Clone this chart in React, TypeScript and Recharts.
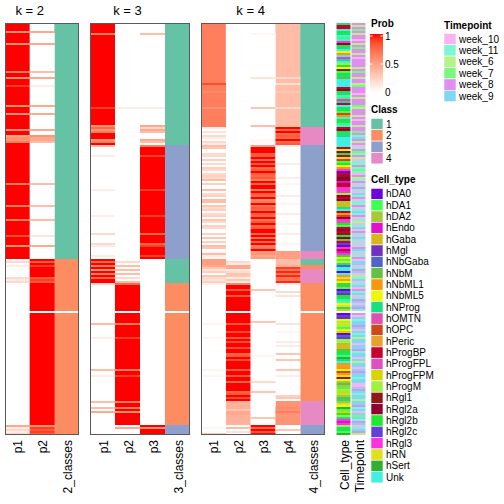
import React from 'react';
import { BarChart, Bar, XAxis, YAxis, Cell } from 'recharts';

type Run = [number, number];

const N_ROWS = 206;

// ---- k = 2 ----
const K2_P1: Run[] = [
  [4, 1], [1, 0.55], [5, 1], [1, 0.55], [13, 1], [1, 0.65], [2, 1], [1, 0.55], [3, 1], [1, 0.9], [9, 1], [1, 0.55],
  [3, 1], [1, 0.55], [7, 1], [1, 0.55], [2, 1], [1, 0.45], [1, 0.55], [1, 0.55], [1, 0.65], [20, 1], [1, 0.65], [10, 1],
  [1, 0.65], [6, 1], [1, 0.65], [7, 1], [1, 0.85], [4, 1], [1, 0.55], [6, 1],
  [1, 0], [1, 0.2], [1, 0], [1, 0.1], [5, 0], [1, 0.2], [1, 0.1], [1, 0.2], [71, 0], [1, 0.45], [1, 0.1], [1, 0.2], [1, 0.1], [1, 0.2],
];
const K2_P2: Run[] = [
  [4, 0], [1, 0.45], [5, 0], [1, 0.45], [13, 0], [1, 0.35], [2, 0], [1, 0.45], [3, 0], [1, 0.1], [9, 0], [1, 0.45],
  [3, 0], [1, 0.45], [7, 0], [1, 0.45], [2, 0], [1, 0.55], [1, 0.45], [1, 0.45], [1, 0.35], [20, 0], [1, 0.35], [10, 0],
  [1, 0.35], [6, 0], [1, 0.35], [7, 0], [1, 0.15], [4, 0], [1, 0.45], [6, 0],
  [1, 1], [1, 0.8], [1, 1], [1, 0.9], [5, 1], [1, 0.8], [1, 0.9], [1, 0.8], [14, 1], [1, 0], [56, 1],
  [1, 0.55], [1, 0.9], [1, 0.8], [1, 0.9], [1, 0.8],
];
const K2_CLASS: Run[] = [[118, 1], [26, 2], [1, 0], [61, 2]];

// ---- k = 3 ----
const K3_P1: Run[] = [
  [5, 1], [1, 0.65], [36, 1], [1, 0.9], [8, 1], [1, 0.55], [1, 0.75], [1, 0.55], [1, 0.65], [3, 1], [1, 0.55], [1, 0.65], [1, 1],
  [1, 0.35], [4, 0], [1, 0.1], [16, 0], [1, 0.1], [12, 0], [1, 0.1], [8, 0], [1, 0.2], [4, 0], [1, 0.2], [1, 0.1], [4, 0], [1, 0.1], [1, 0],
  [1, 1], [1, 0.75], [1, 1], [1, 0.65], [1, 1], [1, 0.55], [1, 1], [1, 0.65], [1, 1], [1, 0.75], [2, 1],
  [1, 0.2], [19, 0], [1, 0.35], [6, 0], [1, 0.1], [15, 0], [1, 0.35], [2, 0], [1, 0.1], [12, 0], [1, 0.35], [2, 0], [1, 0.35], [1, 0], [1, 0.45], [11, 0],
];
const K3_P2: Run[] = [
  [42, 0], [1, 0.1], [75, 0],
  [1, 0], [1, 0.2], [1, 0], [1, 0.35], [1, 0], [1, 0.35], [1, 0], [1, 0.35], [1, 0], [1, 0.2], [1, 0], [1, 0.35],
  [1, 0.75], [13, 1], [1, 0], [5, 1], [1, 0.65], [6, 1], [1, 0.9], [15, 1], [1, 0.65], [2, 1], [1, 0.9], [12, 1], [1, 0.65], [2, 1],
  [1, 0.65], [1, 1], [1, 0.55], [6, 1], [1, 0], [1, 0.45], [3, 0],
];
const K3_P3: Run[] = [
  [5, 0], [1, 0.35], [36, 0], [1, 0.1], [8, 0], [1, 0.45], [1, 0.2], [1, 0.45], [1, 0.35], [3, 0], [1, 0.45], [1, 0.35], [1, 0],
  [1, 0.65], [4, 1], [1, 0.9], [16, 1], [1, 0.9], [12, 1], [1, 0.9], [8, 1], [1, 0.75], [4, 1], [1, 0.75], [1, 0.9], [4, 1], [1, 0.9], [1, 1],
  [83, 0], [1, 1], [1, 0.55], [3, 1],
];
const K3_CLASS: Run[] = [[61, 1], [57, 3], [12, 1], [14, 2], [1, 0], [56, 2], [5, 3]];

// ---- k = 4 ----
const K4_P1: Run[] = [
  [30, 0.65], [1, 0.85], [3, 0.65], [1, 0.6], [7, 0.65], [1, 0.55], [9, 0.65],
  [1, 0.1], [1, 0], [1, 0.15], [1, 0], [1, 0.2], [1, 0.1], [1, 0], [1, 0.2], [1, 0.1],
  [1, 0.35], [1, 0.3], [2, 0], [1, 0.2], [1, 0.2], [1, 0], [1, 0.25], [1, 0], [1, 0.2], [1, 0], [1, 0.25], [1, 0.2], [1, 0],
  [1, 0.2], [1, 0.25], [1, 0.2], [1, 0.35], [1, 0], [1, 0.25], [2, 0], [1, 0.35], [1, 0], [1, 0.2], [1, 0.25], [1, 0],
  [1, 0.35], [1, 0.35], [1, 0], [1, 0.3], [1, 0.2], [1, 0.25], [1, 0], [1, 0.2], [1, 0.25], [1, 0], [1, 0.3], [1, 0.2], [1, 0],
  [1, 0.25], [1, 0.2], [2, 0], [1, 0.25], [1, 0], [1, 0.3], [1, 0], [1, 0.25], [1, 0], [1, 0.35], [1, 0.3], [1, 0],
  [1, 0.05], [1, 0.35], [1, 0.1], [1, 0.05], [3, 0.5],
  [1, 0.45], [1, 0.3], [1, 0.15], [1, 0.25], [1, 0], [1, 0.3], [1, 0.2], [1, 0.15], [1, 0.25], [1, 0.1],
  [19, 0], [1, 0.05], [6, 0], [1, 0.05], [15, 0], [1, 0.05], [2, 0], [1, 0.05], [25, 0], [1, 0.05], [2, 0], [1, 0.3],
];
const K4_P2: Run[] = [
  [119, 0], [1, 0.2], [1, 0.1], [1, 0.45], [1, 0.45], [1, 0.1], [1, 0.2], [1, 0.3], [1, 0.3], [1, 0.1], [1, 0.3], [1, 0.1], [1, 0.6],
  [2, 1], [1, 0.8], [2, 1], [1, 0.8], [7, 1], [1, 0], [5, 1], [1, 0.8], [3, 1], [1, 0.85], [2, 1], [1, 0.8], [1, 1], [1, 0.85],
  [2, 1], [1, 0.85], [2, 1], [1, 0.75], [1, 0.8], [1, 1], [1, 0.85], [4, 1], [1, 0.8], [2, 1], [1, 0.8], [2, 1], [1, 0.75],
  [4, 1], [1, 0.75], [1, 0.8], [1, 1], [1, 0.85], [1, 1],
  [4, 0.4], [1, 0.3], [1, 0.45], [1, 0.45], [5, 0.4],
  [1, 0], [1, 0.35], [1, 0], [1, 0.15], [1, 0],
];
const K4_P3: Run[] = [
  [5, 0], [1, 0.05], [21, 0], [1, 0.15], [14, 0], [1, 0.3], [8, 0], [1, 0.35], [6, 0], [1, 0.05], [1, 0.05], [1, 0],
  [1, 0.5], [3, 1], [1, 0.8], [1, 0.8], [1, 1], [1, 0.75], [1, 1], [1, 0.8], [1, 1], [1, 0.75], [1, 0.8], [1, 1], [1, 0.8],
  [1, 0.75], [1, 0.8], [1, 0.65], [1, 1], [1, 0.75], [2, 1], [1, 0.65], [1, 1], [1, 0.8], [1, 0.75], [1, 1], [1, 0.6],
  [1, 0.65], [1, 1], [1, 0.7], [1, 0.8], [1, 0.75], [1, 1], [1, 0.8], [1, 0.75], [1, 1], [1, 0.7], [1, 0.8], [1, 1],
  [1, 0.75], [1, 0.8], [2, 1], [1, 0.75], [1, 1], [1, 0.7], [1, 1], [1, 0.75], [1, 1], [1, 0.65], [1, 0.7], [1, 1],
  [1, 0.5], [1, 0.55], [1, 0.45], [1, 0.5],
  [15, 0], [1, 0.3], [15, 0], [1, 0.3], [16, 0], [1, 0.05], [12, 0], [1, 0.2], [4, 0], [1, 0.3], [12, 0], [1, 0.3], [3, 0],
  [1, 1], [1, 0.75], [1, 1], [1, 0.8], [1, 1],
];
const K4_P4: Run[] = [
  [27, 0.35], [1, 0.2], [2, 0.35], [1, 0.15], [3, 0.35], [1, 0.3], [7, 0.35], [1, 0.2], [9, 0.35],
  [1, 1], [1, 0.75], [1, 1], [1, 0.75], [1, 0.8], [1, 0.75], [1, 1], [1, 0.75], [1, 0.8],
  [1, 0.1], [8, 0], [1, 0.1], [6, 0], [1, 0.1], [2, 0], [1, 0.05], [5, 0], [1, 0.1], [3, 0], [1, 0.05], [4, 0], [1, 0.1],
  [4, 0], [1, 0.05], [4, 0], [1, 0.1], [4, 0], [1, 0.05], [3, 0],
  [4, 0.5], [3, 0.35], [1, 0.4], [1, 0.9], [1, 0.7], [1, 0.95], [1, 0.7], [1, 0.95], [1, 0.7], [1, 0.7], [1, 0.95],
  [1, 0.1], [3, 0], [1, 0.2], [1, 0], [1, 0.15], [13, 0], [1, 0.15], [3, 0], [1, 0.05], [4, 0], [1, 0.1], [1, 0], [1, 0.1],
  [3, 0], [1, 0.3], [2, 0], [1, 0.3], [4, 0], [1, 0.3], [2, 0], [1, 0.1], [9, 0], [1, 0.25], [1, 0.3], [1, 0],
  [3, 0.55], [1, 0.6], [1, 0.55], [1, 0.65], [6, 0.55],
  [2, 0], [1, 0.3], [2, 0],
];
const K4_CLASS: Run[] = [[52, 1], [9, 4], [53, 3], [4, 4], [3, 1], [2, 2], [7, 4], [14, 2], [1, 0], [44, 2], [12, 4], [5, 3]];

// ---- annotations (one character per sample, '-' = missing) ----
const CELL_TYPES = ['hDA0', 'hDA1', 'hDA2', 'hEndo', 'hGaba', 'hMgl', 'hNbGaba', 'hNbM', 'hNbML1', 'hNbML5', 'hNProg', 'hOMTN', 'hOPC',
  'hPeric', 'hProgBP', 'hProgFPL', 'hProgFPM', 'hProgM', 'hRgl1', 'hRgl2a', 'hRgl2b', 'hRgl2c', 'hRgl3', 'hRN', 'hSert', 'Unk'];
const CELL_TYPE_COLORS = ['#6E00DC', '#40FF50', '#A8C83C', '#E010D0', '#D8B818', '#7030C0', '#5064C8', '#64C040', '#F89810', '#EEF800',
  '#18E080', '#E050B0', '#D04818', '#E8A030', '#C80030', '#E050C0', '#D8D400', '#A0F040', '#901818', '#900030', '#20E830', '#6040D8',
  '#FF30E0', '#E0E020', '#30B030', '#40F0E0'];
const CELL_TYPE_CODES =
  'koozukzbzw' + 'tukzjizwkz' + 'rujsbukhzz' + 'zzotukzbwk' + 'ozkubmizuk' + 'bzotukkzzz' + 'zzojtuoxmb' + 'ujiwaosttd' +
  'oowwprtotc' + 'eekzoimtwl' + 'ubotosutho' + 'vawodwujbx' + 'kgzzazixnj' + 'uhbagfukbz' + 'jxkq-avfjr' + 'xrbjqagvrr' +
  'ceehukbykz' + 'inijmixsjc' + 'hcbrqrchkc' + 'xjybqurkwd' + 'wrkuby';

const TIMEPOINTS = ['week_10', 'week_11', 'week_6', 'week_7', 'week_8', 'week_9'];
const TIMEPOINT_COLORS = ['#F9B4EF', '#7DF7D3', '#B5F28A', '#7BF77B', '#DE8FF0', '#7FD6F5'];
const TIMEPOINT_CODES =
  'ECEDECEEAE' + 'CEDEECEAEE' + 'EECEDEECEE' + 'CDEEEAECEE' + 'EDCEEECEAE' + 'ECEEDEBFEC' + 'EABEDBECAB' + 'BEBDBAECBE' +
  'ABEBAFBEAB' + 'BEABFBEABC' + 'ABFAEBAFBA' + 'BAEFBABEAF' + 'FABEFACBFA' + 'BFAEBFABEF' + 'AFEB-EAFBF' + 'FEFAFBFCFF' +
  'AFFEBFFAFC' + 'FFAFEFFBFF' + 'AAFEFBFFCF' + 'FEBFAFDFBE' + 'FABFEC';

const CLASS_LABELS = ['1', '2', '3', '4'];
const CLASS_COLORS = ['#66C2A5', '#FC8D62', '#8DA0CB', '#E78AC3'];
const PROB_TICKS = [1, 0.5, 0];

// ---- colour helpers (LAB interpolation white -> red) ----
const toLin = (c: number) => { const v = c / 255; return v <= 0.04045 ? v / 12.92 : Math.pow((v + 0.055) / 1.055, 2.4); };
const fromLin = (c: number) => {
  const v = c <= 0.0031308 ? 12.92 * c : 1.055 * Math.pow(Math.max(c, 0), 1 / 2.4) - 0.055;
  return Math.round(Math.max(0, Math.min(1, v)) * 255);
};
const rgbToLab = (r: number, g: number, b: number) => {
  const R = toLin(r), G = toLin(g), B = toLin(b);
  const X = (0.4124 * R + 0.3576 * G + 0.1805 * B) / 0.95047;
  const Y = 0.2126 * R + 0.7152 * G + 0.0722 * B;
  const Z = (0.0193 * R + 0.1192 * G + 0.9505 * B) / 1.08883;
  const f = (t: number) => (t > 0.008856 ? Math.cbrt(t) : 7.787 * t + 16 / 116);
  return [116 * f(Y) - 16, 500 * (f(X) - f(Y)), 200 * (f(Y) - f(Z))];
};
const labToHex = (L: number, a: number, b: number) => {
  const fy = (L + 16) / 116, fx = fy + a / 500, fz = fy - b / 200;
  const inv = (t: number) => (t * t * t > 0.008856 ? t * t * t : (t - 16 / 116) / 7.787);
  const X = 0.95047 * inv(fx), Y = inv(fy), Z = 1.08883 * inv(fz);
  const R = 3.2406 * X - 1.5372 * Y - 0.4986 * Z;
  const G = -0.9689 * X + 1.8758 * Y + 0.0415 * Z;
  const B = 0.0557 * X - 0.204 * Y + 1.057 * Z;
  return '#' + [R, G, B].map((c) => fromLin(c).toString(16).padStart(2, '0')).join('');
};
const WHITE_LAB = rgbToLab(255, 255, 255);
const RED_LAB = rgbToLab(255, 0, 0);
const probColor = (p: number) => {
  const t = Math.max(0, Math.min(1, p));
  return labToHex(
    WHITE_LAB[0] + t * (RED_LAB[0] - WHITE_LAB[0]),
    WHITE_LAB[1] + t * (RED_LAB[1] - WHITE_LAB[1]),
    WHITE_LAB[2] + t * (RED_LAB[2] - WHITE_LAB[2]),
  );
};
const classColor = (c: number) => (c >= 1 ? CLASS_COLORS[c - 1] : '#FFFFFF');

const codesToRuns = (codes: string, alphabet: string): Run[] => {
  const runs: Run[] = [];
  for (const ch of codes) {
    const idx = alphabet.indexOf(ch);
    const last = runs[runs.length - 1];
    if (last && last[1] === idx) last[0] += 1;
    else runs.push([1, idx]);
  }
  return runs;
};
const CT_RUNS = codesToRuns(CELL_TYPE_CODES, 'abcdefghijklmnopqrstuvwxyz');
const TP_RUNS = codesToRuns(TIMEPOINT_CODES, 'ABCDEF');

// ---- layout ----
const FONT = '"Liberation Sans", Arial, Helvetica, sans-serif';
const TOP = 23;
const HM_H = 412;
const LABEL_H = 70;

type Column = { name: string; runs: Run[]; color: (v: number) => string };

const RotTick = (props: any) => {
  const { x, y, payload } = props;
  const bx = x + 5;
  return (
    <text x={bx} y={y} transform={`rotate(-90 ${bx} ${y})`} textAnchor="end" fontSize={12} fontFamily={FONT} fill="#000">
      {payload.value}
    </text>
  );
};

function HeatPanel({ columns, left, width, gap, border }: { columns: Column[]; left: number; width: number; gap: number; border: boolean }) {
  const M = Math.max(...columns.map((c) => c.runs.length));
  const data = columns.map((c) => {
    const row: Record<string, any> = { name: c.name };
    for (let i = 0; i < M; i++) row['s' + i] = c.runs[i] ? c.runs[i][0] : 0;
    return row;
  });
  return (
    <>
      <div style={{ position: 'absolute', left, top: TOP, width, height: HM_H + LABEL_H }}>
        <BarChart width={width} height={HM_H + LABEL_H} data={data} margin={{ top: 0, right: 0, bottom: 0, left: 0 }} barCategoryGap={gap}>
          <YAxis hide type="number" domain={[0, N_ROWS]} reversed allowDataOverflow />
          <XAxis dataKey="name" type="category" interval={0} tickLine={false} axisLine={false} tickSize={0} tickMargin={5}
            height={LABEL_H} tick={(p: any) => <RotTick {...p} />} />
          {Array.from({ length: M }, (_, i) => (
            <Bar key={i} dataKey={'s' + i} stackId="a" isAnimationActive={false}>
              {columns.map((c, j) => (
                <Cell key={j} fill={c.runs[i] ? c.color(c.runs[i][1]) : 'none'} />
              ))}
            </Bar>
          ))}
        </BarChart>
      </div>
      {border && (
        <div style={{ position: 'absolute', left, top: TOP, width, height: HM_H, border: '1px solid #5a5a5a', boxSizing: 'border-box', pointerEvents: 'none' }} />
      )}
    </>
  );
}

const PANELS = [
  { title: 'k = 2', left: 5, width: 74, cols: [['p1', K2_P1], ['p2', K2_P2]] as [string, Run[]][], cls: ['2_classes', K2_CLASS] as [string, Run[]] },
  { title: 'k = 3', left: 90, width: 100, cols: [['p1', K3_P1], ['p2', K3_P2], ['p3', K3_P3]] as [string, Run[]][], cls: ['3_classes', K3_CLASS] as [string, Run[]] },
  { title: 'k = 4', left: 201, width: 124, cols: [['p1', K4_P1], ['p2', K4_P2], ['p3', K4_P3], ['p4', K4_P4]] as [string, Run[]][], cls: ['4_classes', K4_CLASS] as [string, Run[]] },
];

const SW = 11.4;
const GRAD_TOP = 36;
const GRAD_H = 56;

export default function App() {
  const gradStops = Array.from({ length: 11 }, (_, i) => i / 10);
  return (
    <div style={{ position: 'fixed', left: 0, top: 0, width: 504, height: 504, background: '#fff', fontFamily: FONT }}>
      {PANELS.map((p) => {
        const columns: Column[] = [
          ...p.cols.map(([n, r]) => ({ name: n, runs: r, color: probColor })),
          { name: p.cls[0], runs: p.cls[1], color: classColor },
        ];
        return <HeatPanel key={p.title} columns={columns} left={p.left} width={p.width} gap={0} border />;
      })}
      <HeatPanel
        columns={[
          { name: 'Cell_type', runs: CT_RUNS, color: (v) => (v >= 0 ? CELL_TYPE_COLORS[v] : '#FFFFFF') },
          { name: 'Timepoint', runs: TP_RUNS, color: (v) => (v >= 0 ? TIMEPOINT_COLORS[v] : '#FFFFFF') },
        ]}
        left={336}
        width={30}
        gap={0.5}
        border={false}
      />
      <svg width={504} height={504} style={{ position: 'absolute', left: 0, top: 0, pointerEvents: 'none' }} fontFamily={FONT}>
        <defs>
          <linearGradient id="probGrad" x1="0" y1="0" x2="0" y2="1">
            {gradStops.map((t) => (
              <stop key={t} offset={t} stopColor={probColor(1 - t)} />
            ))}
          </linearGradient>
        </defs>
        {PANELS.map((p) => {
          const nc = p.cols.length + 1;
          const cx = p.left + (p.width * (nc - 1)) / nc / 2;
          return (
            <text key={p.title} x={cx} y={15} textAnchor="middle" fontSize={13} fill="#000">{p.title}</text>
          );
        })}
        {/* Prob legend */}
        <text x={371} y={23} fontSize={10} fontWeight="bold" dominantBaseline="central">Prob</text>
        <rect x={370} y={GRAD_TOP - 2} width={13} height={GRAD_H + 2} fill="url(#probGrad)" />
        {PROB_TICKS.map((v) => {
          const y = GRAD_TOP + (1 - v) * GRAD_H;
          return (
            <g key={v}>
              {v > 0 && <line x1={370} x2={372.5} y1={y} y2={y} stroke="#fff" strokeWidth={1} />}
              {v > 0 && <line x1={380.5} x2={383} y1={y} y2={y} stroke="#fff" strokeWidth={1} />}
              <text x={385} y={y} fontSize={10} dominantBaseline="central">{v}</text>
            </g>
          );
        })}
        {/* Class legend */}
        <text x={371} y={109.5} fontSize={10} fontWeight="bold" dominantBaseline="central">Class</text>
        {CLASS_LABELS.map((l, i) => (
          <g key={l}>
            <rect x={371} y={118.3 + i * SW} width={12} height={SW} fill={CLASS_COLORS[i]} stroke="#fff" strokeWidth={0.6} />
            <text x={386} y={118.3 + i * SW + SW / 2} fontSize={10} dominantBaseline="central">{l}</text>
          </g>
        ))}
        {/* Cell_type legend */}
        <text x={371} y={179} fontSize={10} fontWeight="bold" dominantBaseline="central">Cell_type</text>
        {CELL_TYPES.map((l, i) => (
          <g key={l}>
            <rect x={371} y={188.3 + i * 11.33} width={12} height={11.33} fill={CELL_TYPE_COLORS[i]} stroke="#fff" strokeWidth={0.6} />
            <text x={386} y={188.3 + i * 11.33 + 11.33 / 2} fontSize={10} dominantBaseline="central">{l}</text>
          </g>
        ))}
        {/* Timepoint legend */}
        <text x={444} y={25} fontSize={10} fontWeight="bold" dominantBaseline="central">Timepoint</text>
        {TIMEPOINTS.map((l, i) => (
          <g key={l}>
            <rect x={444} y={33.3 + i * SW} width={12} height={SW} fill={TIMEPOINT_COLORS[i]} stroke="#fff" strokeWidth={0.6} />
            <text x={459} y={33.3 + i * SW + SW / 2} fontSize={10} dominantBaseline="central">{l}</text>
          </g>
        ))}
      </svg>
    </div>
  );
}
